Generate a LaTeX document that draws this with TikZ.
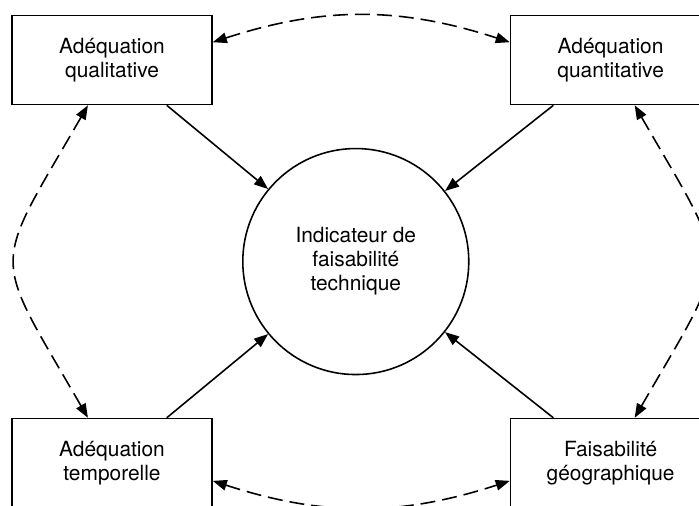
\documentclass[tikz,border=0pt]{standalone}
\usepackage{fontspec}
\setmainfont{TeX Gyre Heros}
\usetikzlibrary{positioning, arrows.meta, calc}

\begin{document}
\begin{tikzpicture}[>={Triangle[length=8pt,width=6pt]}, node distance=6.25cm and 5.94cm, line width=0.9pt,
  crit/.style={draw, rectangle, minimum width=4cm, minimum height=1.78cm, align=center, font=\fontsize{11.9}{13.6}\selectfont},
  indic/.style={draw, circle, minimum size=4.52cm, align=center, font=\fontsize{11.9}{13.6}\selectfont},
  link/.style={dash pattern=on 8.5pt off 4pt}]
  \clip (-2.24,1.2) rectangle (11.74,-8.9);
  \node[crit] (qual) {Adéquation\\qualitative};
  \node[crit, right=of qual] (quant) {Adéquation\\quantitative};
  \node[crit, below=of qual] (temp) {Adéquation\\temporelle};
  \node[crit, below=of quant] (geo) {Faisabilité\\géographique};
  \node[indic] (ift) at ($(qual)!0.5!(geo)+(-0.11,0)$) {Indicateur de\\faisabilité\\technique};
  % criteres vers indicateur
  \draw[->] (qual) -- (ift);
  \draw[->] (quant) -- (ift);
  \draw[->] (temp) -- (ift);
  \draw[->] (geo) -- (ift);
  % liens entre criteres
  \draw[<->, link] (qual.10) to[out=18, in=162] (quant.170);
  \draw[<->, link] (temp.-10) to[out=-18, in=-162] (geo.190);
  \draw[<->, link] (qual.242) to[out=240, in=120, looseness=1.6] (temp.118);
  \draw[<->, link] (quant.-62) to[out=-60, in=60, looseness=1.6] (geo.62);
\end{tikzpicture}
\end{document}
